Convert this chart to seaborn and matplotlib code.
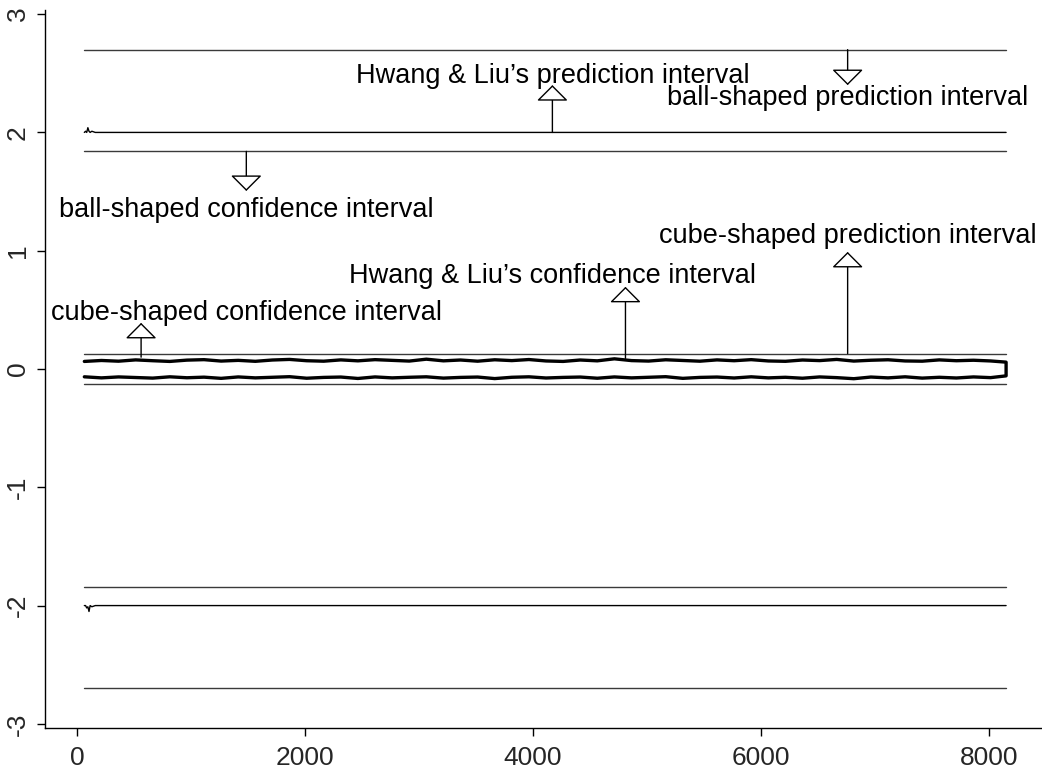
import numpy as np
import pandas as pd
import matplotlib
matplotlib.use("Agg")
import matplotlib.pyplot as plt
import seaborn as sns

# ---------------- data ----------------
x_range = [64, 8150]
ball_pred = 2.70      # ball-shaped prediction interval half-width
ball_conf = 1.84      # ball-shaped confidence interval half-width
cube_half = 0.13      # cube-shaped intervals half-width

hl_pred_x = [64, 75, 85, 95, 105, 115, 130, 160, 400, 8150]
hl_pred_upper = [2.00, 2.01, 2.00, 2.04, 2.01, 2.00, 2.01, 2.00, 2.00, 2.00]
hl_pred_lower = [-2.00, -2.00, -2.02, -2.01, -2.05, -2.00, -2.01, -2.00, -2.00, -2.00]

hl_conf_x = [64, 214, 364, 514, 664, 814, 964, 1114, 1264, 1414,
             1564, 1714, 1864, 2014, 2164, 2314, 2464, 2614, 2764, 2914,
             3064, 3214, 3364, 3514, 3664, 3814, 3964, 4114, 4264, 4414,
             4564, 4714, 4864, 5014, 5164, 5314, 5464, 5614, 5764, 5914,
             6064, 6214, 6364, 6514, 6664, 6814, 6964, 7114, 7264, 7414,
             7564, 7714, 7864, 8014, 8150]
hl_conf_upper = [0.064, 0.072, 0.066, 0.077, 0.070, 0.064, 0.075, 0.079, 0.067, 0.073,
                 0.065, 0.076, 0.081, 0.070, 0.066, 0.077, 0.069, 0.079, 0.073, 0.067,
                 0.083, 0.069, 0.076, 0.066, 0.078, 0.071, 0.080, 0.068, 0.064, 0.076,
                 0.069, 0.086, 0.071, 0.067, 0.078, 0.072, 0.066, 0.077, 0.070, 0.079,
                 0.068, 0.065, 0.076, 0.071, 0.081, 0.067, 0.074, 0.078, 0.068, 0.066,
                 0.077, 0.070, 0.074, 0.068, 0.058]
hl_conf_lower = [-0.066, -0.075, -0.067, -0.072, -0.077, -0.066, -0.074, -0.069, -0.079, -0.067,
                 -0.075, -0.070, -0.065, -0.078, -0.071, -0.068, -0.080, -0.067, -0.075, -0.070,
                 -0.066, -0.077, -0.071, -0.068, -0.081, -0.070, -0.066, -0.076, -0.071, -0.068,
                 -0.078, -0.067, -0.075, -0.070, -0.065, -0.079, -0.071, -0.068, -0.076, -0.066,
                 -0.075, -0.070, -0.078, -0.067, -0.073, -0.082, -0.068, -0.075, -0.066, -0.077,
                 -0.070, -0.076, -0.067, -0.073, -0.058]

labels = ["Hwang & Liu\u2019s prediction interval",
          "ball-shaped prediction interval",
          "ball-shaped confidence interval",
          "cube-shaped prediction interval",
          "Hwang & Liu\u2019s confidence interval",
          "cube-shaped confidence interval"]
label_x = [4170, 6760, 1485, 6760, 4170, 1485]
label_y = [2.418, 2.232, 1.285, 1.065, 0.727, 0.414]
arrow_x = [4170, 6760, 1485, 6760, 4811, 562]
arrow_from = [2.00, 2.70, 1.84, 0.13, 0.09, 0.10]
arrow_to = [2.40, 2.40, 1.505, 0.99, 0.695, 0.39]

x_ticks = [0, 2000, 4000, 6000, 8000]
y_ticks = [-3, -2, -1, 0, 1, 2, 3]

# ---------------- figure ----------------
sns.set_style("ticks")
plt.rcParams["font.family"] = ["Liberation Sans", "DejaVu Sans"]
plt.rcParams["axes.unicode_minus"] = False

fig = plt.figure(figsize=(10.42, 7.69), dpi=100)
ax = fig.add_axes([45 / 1042, 41 / 769, 997 / 1042, 718 / 769])

line_col = "#3a3a3a"
flat_rows = []
for name, v in [("bp_u", ball_pred), ("bp_l", -ball_pred), ("bc_u", ball_conf),
                ("bc_l", -ball_conf), ("cu_u", cube_half), ("cu_l", -cube_half)]:
    for xv in x_range:
        flat_rows.append({"x": xv, "y": v, "g": name})
flat = pd.DataFrame(flat_rows)
sns.lineplot(data=flat, x="x", y="y", units="g", estimator=None, color=line_col,
             lw=1.0, ax=ax, legend=False)

hp = pd.DataFrame({"x": hl_pred_x + hl_pred_x,
                   "y": hl_pred_upper + hl_pred_lower,
                   "g": ["u"] * len(hl_pred_x) + ["l"] * len(hl_pred_x)})
sns.lineplot(data=hp, x="x", y="y", units="g", estimator=None, color="black",
             lw=1.0, ax=ax, legend=False)

band = pd.DataFrame({"x": hl_conf_x + hl_conf_x[::-1],
                     "y": hl_conf_upper + hl_conf_lower[::-1]})
sns.lineplot(data=band, x="x", y="y", sort=False, estimator=None, color="black",
             lw=2.4, ax=ax, legend=False)

for t, tx, ty in zip(labels, label_x, label_y):
    ax.text(tx, ty, t, ha="center", va="baseline", fontsize=19.5, color="black")

for xa, y0, y1 in zip(arrow_x, arrow_from, arrow_to):
    ax.annotate("", xy=(xa, y1), xytext=(xa, y0),
                arrowprops=dict(arrowstyle="-|>,head_length=10,head_width=10",
                                mutation_scale=1, fc="white", ec="black",
                                lw=1.0, shrinkA=0, shrinkB=0))

ax.set_xlim(-281, 8465)
ax.set_ylim(-3.035, 3.035)
ax.set_xticks(x_ticks)
ax.set_xticklabels([str(v) for v in x_ticks])
ax.set_yticks(y_ticks)
ax.set_yticklabels([str(v) for v in y_ticks], rotation=90, va="center")
ax.tick_params(axis="both", labelsize=19, length=6, width=1, color="black",
               direction="out", bottom=True, left=True, top=False, right=False)
ax.tick_params(axis="x", pad=7)
ax.tick_params(axis="y", pad=5)
ax.set_xlabel("")
ax.set_ylabel("")
for s in ["top", "right"]:
    ax.spines[s].set_visible(False)
for s in ["left", "bottom"]:
    ax.spines[s].set_color("black")
    ax.spines[s].set_linewidth(1.0)

fig.savefig("out.png", dpi=100, facecolor="white")
